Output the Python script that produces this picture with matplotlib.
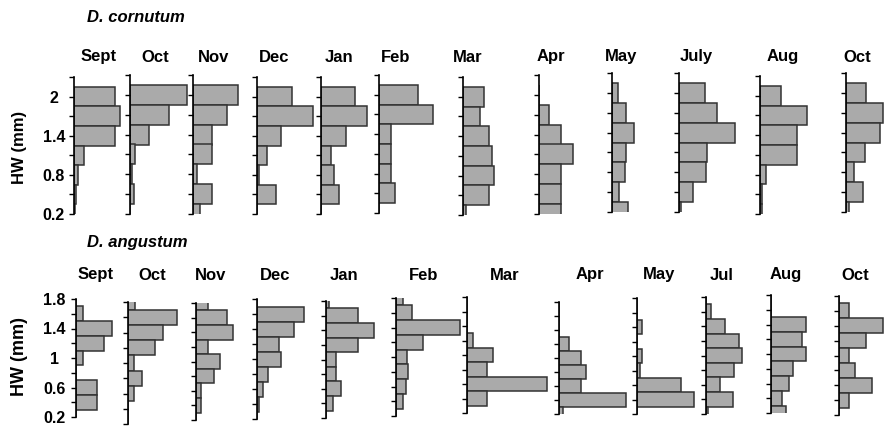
import matplotlib
matplotlib.use('Agg')
import matplotlib.pyplot as plt
import numpy as np

plt.rcParams['font.family'] = ['Liberation Sans', 'DejaVu Sans']
plt.rcParams['font.weight'] = 'bold'

# D. cornutum (top row), head width bins in mm
corn_months = ['Sept', 'Oct', 'Nov', 'Dec', 'Jan', 'Feb', 'Mar', 'Apr', 'May', 'July', 'Aug', 'Oct']
corn_bins = [2.0, 1.7, 1.4, 1.1, 0.8, 0.5, 0.2]
corn_freq = [
    [41, 46, 41, 10, 4, 1.5, 1],
    [57, 39, 19, 5, 2.5, 4, 0],
    [45, 34, 19, 19, 4, 19, 7],
    [35, 56, 24, 10, 2, 19, 0],
    [34, 46, 25, 10, 13, 18, 0],
    [39, 54, 12, 12, 12, 16, 0],
    [21, 17, 26, 29, 31, 26, 3],
    [0, 10, 22, 34, 22, 22, 22],
    [6, 14, 22, 14, 13, 7, 16],
    [26, 38, 56, 28, 27, 14, 2],
    [21, 47, 37, 37, 6, 2, 2],
    [20, 37, 34, 19, 8, 17, 3],
]
corn_ticks = [0.2, 0.5, 0.8, 1.1, 1.4, 1.7, 2.0, 2.3]
corn_ticklabels = ['0.2', '', '0.8', '', '1.4', '', '2', '']

# D. angustum (bottom row)
ang_months = ['Sept', 'Oct', 'Nov', 'Dec', 'Jan', 'Feb', 'Mar', 'Apr', 'May', 'Jul', 'Aug', 'Oct']
ang_bins = [1.8, 1.6, 1.4, 1.2, 1.0, 0.8, 0.6, 0.4, 0.2]
ang_freq = [
    [0, 7, 36, 28, 7, 0, 21, 21, 0],
    [7, 49, 35, 27, 6, 14, 6, 0, 0],
    [12, 31, 37, 12, 24, 18, 5, 5, 0],
    [0, 47, 37, 22, 24, 11, 6, 2, 0],
    [3, 32, 48, 32, 10, 10, 15, 7, 0],
    [7, 16, 64, 27, 11, 12, 10, 7, 0],
    [0, 0, 0, 6, 26, 20, 80, 20, 0],
    [0, 0, 0, 10, 22, 27, 22, 67, 4],
    [0, 0, 5, 0, 5, 3, 44, 57, 0],
    [0, 5, 19, 33, 36, 28, 14, 27, 2],
    [0, 0, 35, 31, 35, 22, 18, 11, 15],
    [0, 10, 44, 27, 10, 16, 33, 10, 0],
]
ang_ticks = [0.2, 0.4, 0.6, 0.8, 1.0, 1.2, 1.4, 1.6, 1.8]
ang_ticklabels = ['0.2', '', '0.6', '', '1', '', '1.4', '', '1.8']

# panel placement in pixels (spine x, y of top value, y of 0.2), the scan is a bit uneven
W, H = 887, 426
corn_x = [74, 130, 193, 257, 321, 379, 463, 539, 612, 679, 760, 846]
corn_top = [77, 75, 75, 77, 77, 75, 77, 75, 73, 73, 76, 73]
corn_bot = [214, 214, 214, 214, 214, 213, 215, 214, 212, 212, 214, 212]
corn_title_x = [99, 155, 214, 274, 339, 396, 468, 551, 621, 696, 783, 857]

ang_x = [76, 128, 196, 257, 326, 396, 467, 559, 637, 706, 771, 839]
ang_top = [299, 302, 303, 299, 301, 298, 297, 302, 298, 297, 295, 296]
ang_bot = [417, 424, 420, 419, 418, 416, 413, 414, 414, 414, 413, 415]
ang_title_x = [96, 152, 211, 275, 344, 424, 505, 590, 659, 722, 786, 855]

fig = plt.figure(figsize=(W / 100, H / 100), dpi=100)

PANEL_W = 95
fill = '#aaaaaa'
edge = '#333333'


def panel(x, top, bot, bins, freq, step, ylo, yhi, ticks, labels, first, lab_off):
    ax = fig.add_axes([x / W, 1 - bot / H, PANEL_W / W, (bot - top) / H])
    ax.patch.set_alpha(0)
    ax.barh(bins, freq, height=step, color=fill, edgecolor=edge, linewidth=1.1)
    ax.set_xlim(0, PANEL_W)
    ax.set_ylim(ylo, yhi)
    for s in ['top', 'right', 'bottom']:
        ax.spines[s].set_visible(False)
    ax.spines['left'].set_linewidth(1.2)
    ax.xaxis.set_visible(False)
    ax.set_yticks(ticks)
    ax.tick_params(axis='y', direction='out', length=3.5, width=1.0, pad=lab_off)
    if first:
        ax.set_yticklabels(labels, fontsize=11.5, fontweight='bold', ha='center')
    else:
        ax.set_yticklabels([])
    return ax


for i in range(12):
    panel(corn_x[i], corn_top[i], corn_bot[i], corn_bins, corn_freq[i], 0.3,
          0.2, 2.3, corn_ticks, corn_ticklabels, i == 0, 11)
    fig.text(corn_title_x[i] / W, 1 - 57 / H, corn_months[i], ha='center', va='center',
             fontsize=12, fontweight='bold')

for i in range(12):
    panel(ang_x[i], ang_top[i], ang_bot[i], ang_bins, ang_freq[i], 0.2,
          0.2, 1.8, ang_ticks, ang_ticklabels, i == 0, 12)
    fig.text(ang_title_x[i] / W, 1 - 275 / H, ang_months[i], ha='center', va='center',
             fontsize=12, fontweight='bold')

fig.text(87 / W, 1 - 18 / H, 'D. cornutum', ha='left', va='center', fontsize=12,
         fontweight='bold', style='italic')
fig.text(87 / W, 1 - 243 / H, 'D. angustum', ha='left', va='center', fontsize=12,
         fontweight='bold', style='italic')

fig.text(20 / W, 1 - 147 / H, 'HW (mm)', rotation=90, ha='center', va='center',
         fontsize=12, fontweight='bold')
fig.text(20 / W, 1 - 356 / H, 'HW (mm)', rotation=90, ha='center', va='center',
         fontsize=13, fontweight='bold')

plt.savefig('out.png', dpi=100)
